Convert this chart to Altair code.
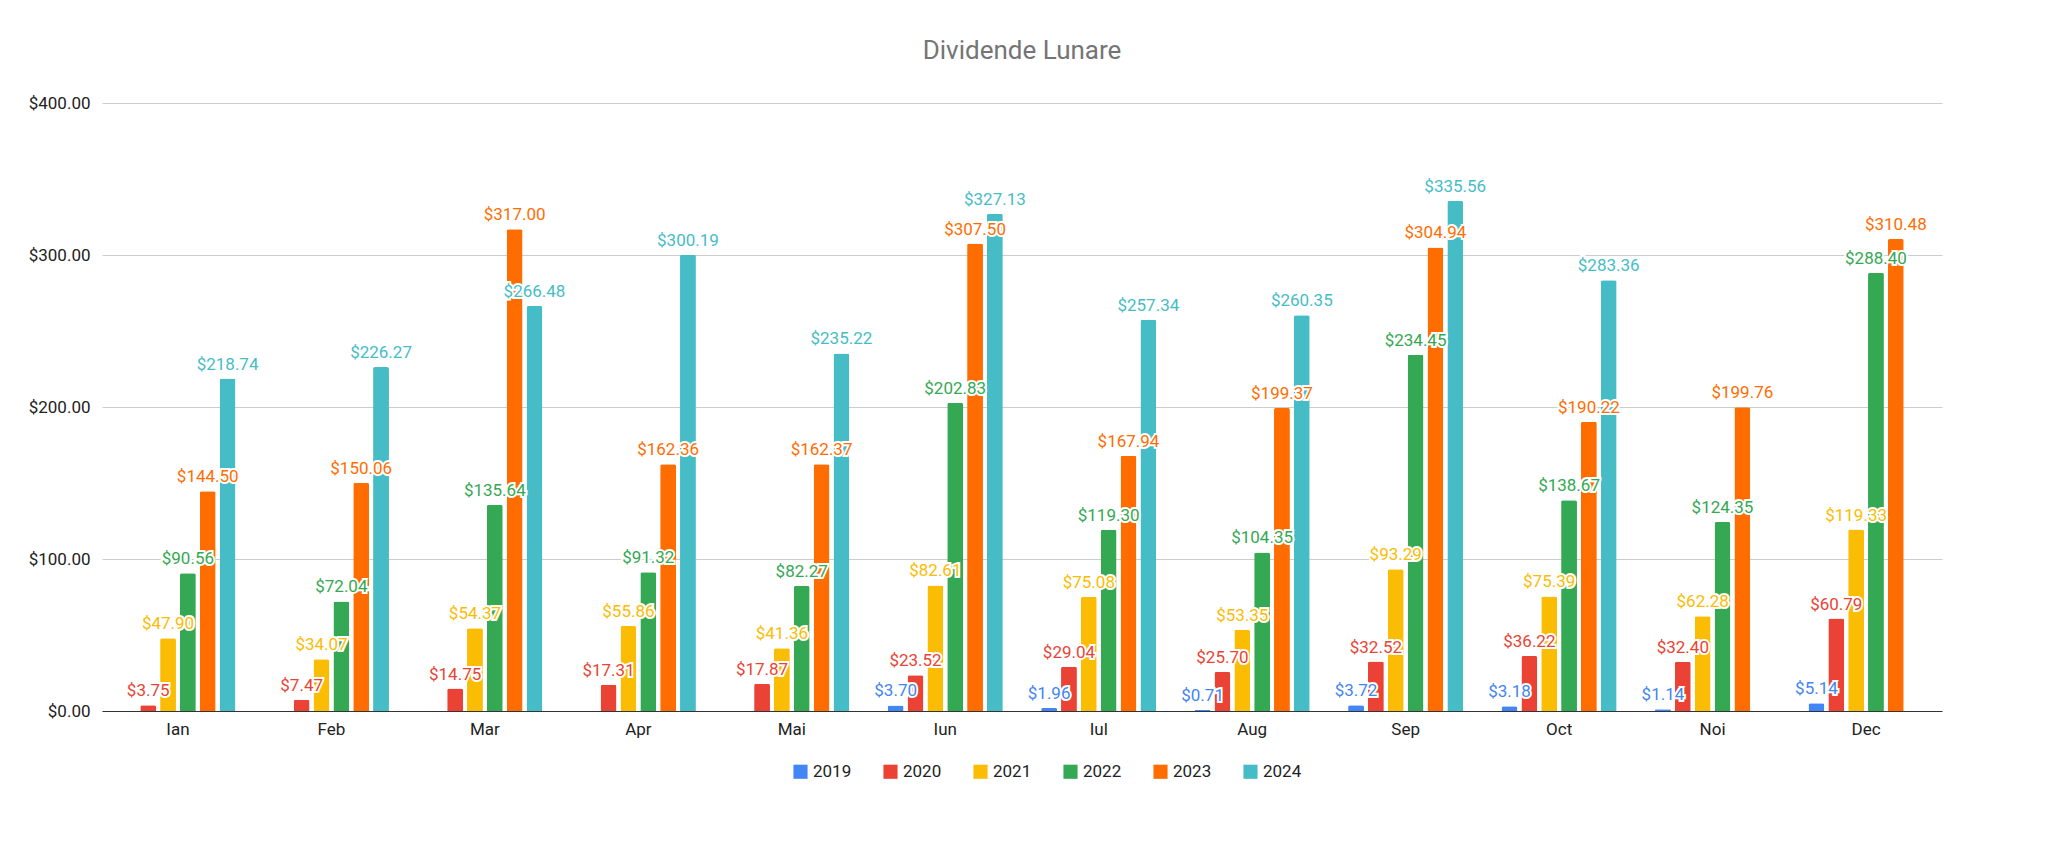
import altair as alt
import pandas as pd

months = ["Ian","Feb","Mar","Apr","Mai","Iun","Iul","Aug","Sep","Oct","Noi","Dec"]
years = ["2019","2020","2021","2022","2023","2024"]
v2019 = [None,None,None,None,None,3.70,1.96,0.71,3.72,3.18,1.14,5.14]
v2020 = [3.75,7.47,14.75,17.31,17.87,23.52,29.04,25.70,32.52,36.22,32.40,60.79]
v2021 = [47.90,34.07,54.37,55.86,41.36,82.61,75.08,53.35,93.29,75.39,62.28,119.33]
v2022 = [90.56,72.04,135.64,91.32,82.27,202.83,119.30,104.35,234.45,138.67,124.35,288.40]
v2023 = [144.50,150.06,317.00,162.36,162.37,307.50,167.94,199.37,304.94,190.22,199.76,310.48]
v2024 = [218.74,226.27,266.48,300.19,235.22,327.13,257.34,260.35,335.56,283.36,None,None]
colors = ["#4285F4","#EA4335","#FBBC04","#34A853","#FF6D01","#46BDC6"]

rows = []
for y, vals in zip(years, [v2019,v2020,v2021,v2022,v2023,v2024]):
    for m, v in zip(months, vals):
        if v is not None:
            rows.append({"Luna": m, "An": y, "Val": v, "Lbl": "${:,.2f}".format(v)})
df = pd.DataFrame(rows)

x = alt.X("Luna:N", sort=months, title=None,
          scale=alt.Scale(paddingInner=0.25, paddingOuter=0.12),
          axis=alt.Axis(labelAngle=0, labelFontSize=17, labelColor="#222", ticks=False,
                        domainColor="#333", labelPadding=10))
xo = alt.XOffset("An:N", sort=years, scale=alt.Scale(paddingInner=0.2))
col = alt.Color("An:N", sort=years, scale=alt.Scale(domain=years, range=colors),
                legend=alt.Legend(orient="none", legendX=690, legendY=660, direction="horizontal",
                                  title=None, symbolType="square",
                                  labelFontSize=17, symbolSize=200, columnPadding=30,
                                  labelColor="#222"))
base = alt.Chart(df).encode(x=x, xOffset=xo)
bars = base.mark_bar(cornerRadiusTopLeft=2, cornerRadiusTopRight=2).encode(
    y=alt.Y("Val:Q", title=None, scale=alt.Scale(domain=[0, 400]),
            axis=alt.Axis(values=[0,100,200,300,400], format="$,.2f", labelFontSize=17,
                          labelColor="#222", gridColor="#ccc", domain=False, ticks=False,
                          labelPadding=12)),
    color=col)
halo = base.mark_text(dy=-14, fontSize=17, stroke="white", strokeWidth=4, fill="white").encode(
    y="Val:Q", text="Lbl:N")
txt = base.mark_text(dy=-14, fontSize=17).encode(
    y="Val:Q", text="Lbl:N", color=alt.Color("An:N", sort=years, scale=alt.Scale(domain=years, range=colors), legend=None))

chart = alt.layer(bars, halo, txt).properties(
    width=1840, height=608,
    title=alt.TitleParams("Dividende Lunare", fontSize=26, fontWeight="normal",
                          color="#757575", font="Roboto", offset=30),
    padding={"left": 20, "top": 30, "right": 40, "bottom": 10}
).configure(font="Roboto", view=alt.ViewConfig(stroke=None))

chart.save("out.html", embed_options={"renderer": "svg", "actions": False})
